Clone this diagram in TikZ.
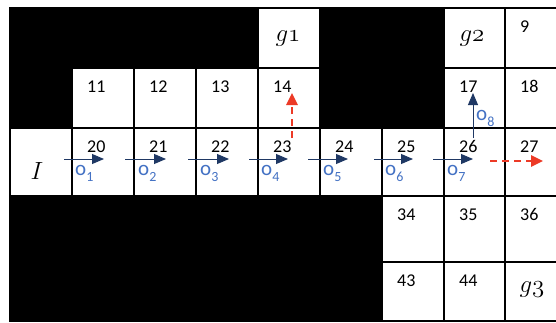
\documentclass[tikz,border=0pt]{standalone}
\usepackage{fontspec}
\setmainfont{Carlito}
\usetikzlibrary{arrows.meta}
\definecolor{navy}{RGB}{31,56,100}
\definecolor{oblue}{RGB}{68,114,196}
\definecolor{ared}{RGB}{236,58,38}
\newcommand\gcell[6]{\node[#6, minimum width={(#3)-(#2)}, minimum height={(#5)-(#4)}] (#1) at ({((#2)+(#3))/2},{((#4)+(#5))/2}) {};}
\newcommand\cnum[4]{\node[num] (#1) at ({(#2)+15},{(#3)+24.5}) {#4};}
\newcommand\olabel[4]{\node[olab] (#1) at (#2,#3) {o\raisebox{-6pt}{\fontsize{14}{14}\selectfont #4}};}
\begin{document}
\begin{tikzpicture}[x=1pt,y=-1pt,
  cellbox/.style={draw=black, line width=1.2pt, inner sep=0pt, outer sep=0pt},
  wcell/.style={cellbox, fill=white},
  bcell/.style={cellbox, fill=black},
  num/.style={font=\fontsize{18}{18}\selectfont, anchor=base west, inner sep=0pt},
  olab/.style={font=\fontsize{21}{21}\selectfont, text=oblue, anchor=base west, inner sep=0pt},
  glab/.style={font=\fontsize{33}{33}\selectfont, inner sep=0pt},
  navyarrow/.style={draw=navy, line width=0.9pt, -{Triangle[length=12pt,width=10pt]}},
  redarrow/.style={draw=ared, line width=2.6pt, dash pattern=on 7pt off 5pt, -{Triangle[length=12pt,width=11pt]}},
]
\useasboundingbox (0,0) rectangle (556,322);
\clip (0,0) rectangle (556,322);
\fill[white] (0,0) rectangle (556,322);
% black cells
\gcell{b11}{10}{72}{8}{68}{bcell}
\gcell{b12}{72}{134}{8}{68}{bcell}
\gcell{b13}{134}{196}{8}{68}{bcell}
\gcell{b14}{196}{258}{8}{68}{bcell}
\gcell{b16}{320}{382}{8}{68}{bcell}
\gcell{b17}{382}{444}{8}{68}{bcell}
\gcell{b21}{10}{72}{68}{128}{bcell}
\gcell{b26}{320}{382}{68}{128}{bcell}
\gcell{b27}{382}{444}{68}{128}{bcell}
\gcell{b41}{10}{72}{196}{262}{bcell}
\gcell{b42}{72}{134}{196}{262}{bcell}
\gcell{b43}{134}{196}{196}{262}{bcell}
\gcell{b44}{196}{258}{196}{262}{bcell}
\gcell{b45}{258}{320}{196}{262}{bcell}
\gcell{b46}{320}{382}{196}{262}{bcell}
\gcell{b51}{10}{72}{262}{321}{bcell}
\gcell{b52}{72}{134}{262}{321}{bcell}
\gcell{b53}{134}{196}{262}{321}{bcell}
\gcell{b54}{196}{258}{262}{321}{bcell}
\gcell{b55}{258}{320}{262}{321}{bcell}
\gcell{b56}{320}{382}{262}{321}{bcell}
% white cells
\gcell{w15}{258}{320}{8}{68}{wcell}
\gcell{w18}{444}{505}{8}{68}{wcell}
\gcell{w19}{505}{567}{8}{68}{wcell}
\gcell{w22}{72}{134}{68}{128}{wcell}
\gcell{w23}{134}{196}{68}{128}{wcell}
\gcell{w24}{196}{258}{68}{128}{wcell}
\gcell{w25}{258}{320}{68}{128}{wcell}
\gcell{w28}{444}{505}{68}{128}{wcell}
\gcell{w29}{505}{567}{68}{128}{wcell}
\gcell{w31}{10}{72}{128}{196}{wcell}
\gcell{w32}{72}{134}{128}{196}{wcell}
\gcell{w33}{134}{196}{128}{196}{wcell}
\gcell{w34}{196}{258}{128}{196}{wcell}
\gcell{w35}{258}{320}{128}{196}{wcell}
\gcell{w36}{320}{382}{128}{196}{wcell}
\gcell{w37}{382}{444}{128}{196}{wcell}
\gcell{w38}{444}{505}{128}{196}{wcell}
\gcell{w39}{505}{567}{128}{196}{wcell}
\gcell{w47}{382}{444}{196}{262}{wcell}
\gcell{w48}{444}{505}{196}{262}{wcell}
\gcell{w49}{505}{567}{196}{262}{wcell}
\gcell{w57}{382}{444}{262}{321}{wcell}
\gcell{w58}{444}{505}{262}{321}{wcell}
\gcell{w59}{505}{567}{262}{321}{wcell}
% cell numbers
\cnum{n9}{505}{8}{9}
\cnum{n11}{72}{68}{11}
\cnum{n12}{134}{68}{12}
\cnum{n13}{196}{68}{13}
\cnum{n14}{258}{68}{14}
\cnum{n17}{444}{68}{17}
\cnum{n18}{505}{68}{18}
\cnum{n20}{72}{128}{20}
\cnum{n21}{134}{128}{21}
\cnum{n22}{196}{128}{22}
\cnum{n23}{258}{128}{23}
\cnum{n24}{320}{128}{24}
\cnum{n25}{382}{128}{25}
\cnum{n26}{444}{128}{26}
\cnum{n27}{505}{128}{27}
\cnum{n34}{382}{196}{34}
\cnum{n35}{444}{196}{35}
\cnum{n36}{505}{196}{36}
\cnum{n43}{382}{262}{43}
\cnum{n44}{444}{262}{44}
% goals and start
\node[glab] (g1) at (288,39) {$g\mathnormal{1}$};
\node[glab] (g2) at (472,39) {$g\mathnormal{2}$};
\node[glab] (g3) at (532,290) {$g\mathnormal{3}$};
\node[font=\fontsize{31}{31}\selectfont, inner sep=0pt] (start) at (37,171) {$I$};
% arrow end points
\foreach \k/\s/\e in {1/64/104, 2/125/166, 3/188/229, 4/249/288, 5/308/348, 6/374/413, 7/433/473}{
  \coordinate (a\k s) at (\s,159);
  \coordinate (a\k e) at (\e,159);
}
\coordinate (a8s) at (473,138);
\coordinate (a8e) at (473,93);
\coordinate (r1s) at (292,138);
\coordinate (r1e) at (292,93);
\coordinate (r2s) at (490,161);
\coordinate (r2e) at (543,161);
\foreach \k in {1,...,8}{ \draw[navyarrow] (a\k s) -- (a\k e); }
\draw[redarrow] (r1s) -- (r1e);
\draw[redarrow] (r2s) -- (r2e);
% action labels
\olabel{o1}{75}{175}{1}
\olabel{o2}{138}{175}{2}
\olabel{o3}{200}{175}{3}
\olabel{o4}{261}{175}{4}
\olabel{o5}{323}{175}{5}
\olabel{o6}{385}{175}{6}
\olabel{o7}{447}{175}{7}
\olabel{o8}{476}{120}{8}
\end{tikzpicture}
\end{document}
